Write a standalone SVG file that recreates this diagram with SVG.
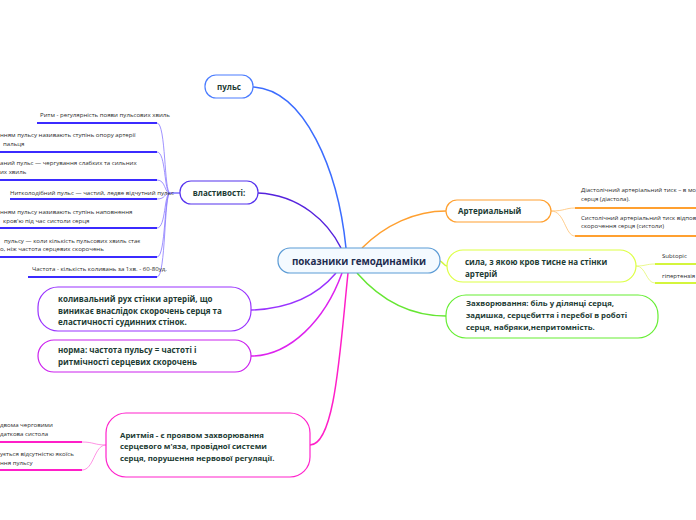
<svg xmlns="http://www.w3.org/2000/svg" width="696" height="520" viewBox="0 0 696 520">
<style>
.n{font-family:"Open Sans","Noto Sans","Liberation Sans",sans-serif;font-weight:bold;fill:#1c3b33}
.l{font-family:"Open Sans","Noto Sans","Liberation Sans",sans-serif;font-size:6.1px;fill:#2b2b2b}
.c{fill:none}
</style>
<rect width="696" height="520" fill="#ffffff"/>
<g id="connectors" class="c">
  <path d="M253,87 C305,90 338,170 346,248" stroke="#3b6cff" stroke-width="1.5"/>
  <path d="M258,193 C300,195 328,222 341,248" stroke="#5522dd" stroke-width="1.5"/>
  <path d="M362,248 C385,225 415,211 446,211" stroke="#ffa030" stroke-width="1.5"/>
  <path d="M440,261 C443,262 444,266 447,266" stroke="#d4f53c" stroke-width="1.5"/>
  <path d="M357,273 C385,305 415,316 446,316" stroke="#66e633" stroke-width="1.5"/>
  <path d="M336,273 C315,298 285,309 251,310" stroke="#9933ff" stroke-width="1.5"/>
  <path d="M342,273 C325,320 290,356 251,356" stroke="#dd22ee" stroke-width="1.5"/>
  <path d="M348,273 C340,350 335,445 310,445" stroke="#ff1fc8" stroke-width="1.5"/>
  <g stroke="#8877ff" stroke-width="0.8">
    <path d="M157,123 C166,123 164,193 170,193"/>
    <path d="M157,152 C166,152 164,193 170,193"/>
    <path d="M157,180 C166,180 164,193 170,193"/>
    <path d="M157,199 C166,199 164,193 170,193"/>
    <path d="M157,228 C166,228 164,193 170,193"/>
    <path d="M157,257 C166,257 164,193 170,193"/>
    <path d="M157,277 C166,277 164,193 170,193"/>
  </g>
  <path d="M170,193 L180,193" stroke="#3b2bff" stroke-width="1"/>
  <g stroke="#3b2bff" stroke-width="2">
    <path d="M37,123 H157"/>
    <path d="M0,152 H157"/>
    <path d="M0,180 H157"/>
    <path d="M10,199 H157"/>
    <path d="M0,228 H157"/>
    <path d="M0,257 H157"/>
    <path d="M28,277 H157"/>
  </g>
  <g stroke="#ffc070" stroke-width="0.8">
    <path d="M551,211 C565,211 565,208 575,208"/>
    <path d="M551,211 C565,211 565,236 575,236"/>
  </g>
  <g stroke="#ffa030" stroke-width="2">
    <path d="M575,208 H696"/>
    <path d="M575,236 H696"/>
  </g>
  <g stroke="#e4f870" stroke-width="0.8">
    <path d="M636,266 C646,266 646,264 655,264"/>
    <path d="M636,266 C646,266 646,283 655,283"/>
  </g>
  <g stroke="#d4f53c" stroke-width="2">
    <path d="M655,264 H696"/>
    <path d="M655,283 H696"/>
  </g>
  <g stroke="#ff77dd" stroke-width="0.8">
    <path d="M82,442 C94,442 94,445 106,445"/>
    <path d="M82,470 C94,470 94,445 106,445"/>
  </g>
  <g stroke="#ff1fc8" stroke-width="2">
    <path d="M0,442 H82"/>
    <path d="M0,470 H82"/>
  </g>
</g>
<g id="center">
  <rect x="278" y="248" width="162" height="25" rx="12" fill="#f4faff" stroke="#5b9bd5" stroke-width="1.2"/>
  <text x="359" y="264.5" text-anchor="middle" font-family="Open Sans,Noto Sans,sans-serif" font-weight="bold" font-size="9.8" fill="#1e2d4f">показники гемодинаміки</text>
</g>
<g id="puls">
  <rect x="205" y="75" width="48" height="23" rx="11" fill="#fff" stroke="#4a7cff" stroke-width="1.2"/>
  <text class="n" x="229" y="90" text-anchor="middle" font-size="8">пульс</text>
</g>
<g id="vlastyvosti">
  <rect x="180" y="181" width="78" height="23" rx="11" fill="#fff" stroke="#5533ee" stroke-width="1.2"/>
  <text class="n" x="219" y="196" text-anchor="middle" font-size="8">властивості:</text>
</g>
<g id="leaves-vlastyvosti">
  <text class="l" x="40" y="117">Ритм - регулярність появи пульсових хвиль</text>
  <text class="l" x="0" y="137">нням пульсу називають ступінь опору артерії</text>
  <text class="l" x="3" y="146"> пальця</text>
  <text class="l" x="0" y="165">аний пульс — чергування слабких та сильних</text>
  <text class="l" x="0" y="174">их хвиль</text>
  <text class="l" x="10" y="195">Нитколодібний пульс — частий, ледве відчутний пульс</text>
  <text class="l" x="0" y="214">нням пульсу називають ступінь наповнення</text>
  <text class="l" x="3" y="223">кров'ю під час систоли серця</text>
  <text class="l" x="4" y="243">пульсу — коли кількість пульсових хвиль стає</text>
  <text class="l" x="0" y="251">о, ніж частота серцевих скорочень</text>
  <text class="l" x="32" y="271">Частота - кількість коливань за 1хв. - 60-80уд.</text>
</g>
<g id="kolyvalnyi">
  <rect x="38" y="287" width="213" height="44" rx="20" fill="#fff" stroke="#9933ff" stroke-width="1.2"/>
  <text class="n" x="58" y="302" font-size="8">коливальний рух стінки артерій, що</text>
  <text class="n" x="58" y="314" font-size="8">виникає внаслідок скорочень серця та</text>
  <text class="n" x="58" y="325" font-size="8">еластичності судинних стінок.</text>
</g>
<g id="norma">
  <rect x="38" y="340" width="213" height="32" rx="16" fill="#fff" stroke="#cc22ee" stroke-width="1.2"/>
  <text class="n" x="58" y="353" font-size="8">норма: частота пульсу = частоті і</text>
  <text class="n" x="58" y="365" font-size="8">ритмічності серцевих скорочень</text>
</g>
<g id="arytmiia">
  <rect x="106" y="413" width="204" height="64" rx="20" fill="#fff" stroke="#ff22cc" stroke-width="1.2"/>
  <text class="n" x="120" y="438" font-size="7.8">Аритмія - є проявом захворювання</text>
  <text class="n" x="120" y="449" font-size="7.8">серцевого м'яза, провідної системи</text>
  <text class="n" x="120" y="461" font-size="7.8">серця, порушення нервової регуляції.</text>
</g>
<g id="leaves-arytmiia">
  <text class="l" x="0" y="427">двома черговими</text>
  <text class="l" x="0" y="436">даткова систола</text>
  <text class="l" x="0" y="456">ується відсутністю якоїсь</text>
  <text class="l" x="0" y="465">ння пульсу</text>
</g>
<g id="arterialnyi">
  <rect x="446" y="200" width="105" height="22" rx="11" fill="#fff" stroke="#ffa030" stroke-width="1.2"/>
  <text class="n" x="458" y="214" font-size="8">Артериальный</text>
</g>
<g id="leaves-arterialnyi">
  <text class="l" x="581" y="192">Діастолічний артеріальний тиск – в мо</text>
  <text class="l" x="581" y="201">серця (діастола).</text>
  <text class="l" x="581" y="220">Систолічний артеріальний тиск відпов</text>
  <text class="l" x="581" y="228">скорочення серця (систоли)</text>
</g>
<g id="syla">
  <rect x="447" y="250" width="189" height="32" rx="16" fill="#fff" stroke="#ddff44" stroke-width="1.2"/>
  <text class="n" x="465" y="265" font-size="8">сила, з якою кров тисне на стінки</text>
  <text class="n" x="465" y="277" font-size="8">артерій</text>
</g>
<g id="leaves-syla">
  <text class="l" x="662" y="258">Subtopic</text>
  <text class="l" x="662" y="278">гіпертензія</text>
</g>
<g id="zakhvoriuvannia">
  <rect x="446" y="295" width="212" height="43" rx="20" fill="#fff" stroke="#66ee33" stroke-width="1.2"/>
  <text class="n" x="466" y="306" font-size="7.8">Захворювання: біль у ділянці серця,</text>
  <text class="n" x="466" y="318" font-size="7.8">задишка, серцебиття і перебої в роботі</text>
  <text class="n" x="466" y="330" font-size="7.8">серця, набряки,непритомність.</text>
</g>
</svg>
